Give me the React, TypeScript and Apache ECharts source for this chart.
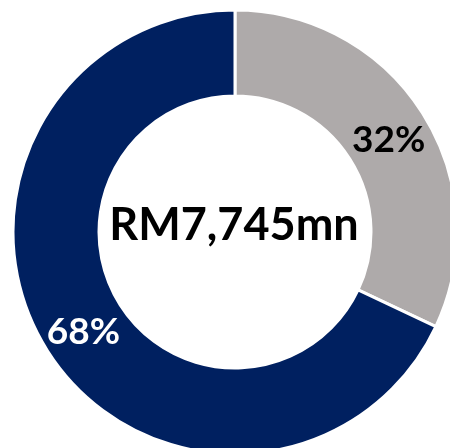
import React, { useEffect, useRef } from "react";
import * as echarts from "echarts";

const categories = ["Segment A", "Segment B"];
const values = [32, 68];
const labels = ["32%", "68%"];
const centerLabel = "RM7,745mn";

export default function App() {
  const ref = useRef<HTMLDivElement>(null);
  useEffect(() => {
    document.body.style.margin = "0";
    const chart = echarts.init(ref.current!, null, { renderer: "svg" });
    chart.setOption({
      animation: false,
      graphic: [
        {
          type: "text",
          x: 234,
          y: 223,
          style: {
            text: centerLabel,
            font: "bold 45px Lato, 'Open Sans', sans-serif",
            fill: "#000",
            align: "center",
            verticalAlign: "middle",
          },
        },
      ],
      series: [
        {
          type: "pie",
          center: [235, 232],
          radius: [136, 222],
          startAngle: 90,
          clockwise: true,
          avoidLabelOverlap: false,
          itemStyle: { borderColor: "#fff", borderWidth: 3 },
          label: {
            show: true,
            position: "inside",
            formatter: (p: any) => labels[p.dataIndex],
            fontFamily: "Lato, 'Open Sans', sans-serif",
            fontWeight: "bold",
            fontSize: 37,
          },
          labelLine: { show: false },
          data: categories.map((c, i) => ({
            name: c,
            value: values[i],
            itemStyle: { color: i === 0 ? "#AEAAAA" : "#002060" },
            label: { color: i === 0 ? "#000" : "#fff", offset: i === 0 ? [0, 3] : [2, 0] },
          })),
        },
      ],
    });
    return () => chart.dispose();
  }, []);
  return (
    <div
      ref={ref}
      style={{ position: "fixed", left: 0, top: 0, width: 450, height: 448 }}
    />
  );
}
